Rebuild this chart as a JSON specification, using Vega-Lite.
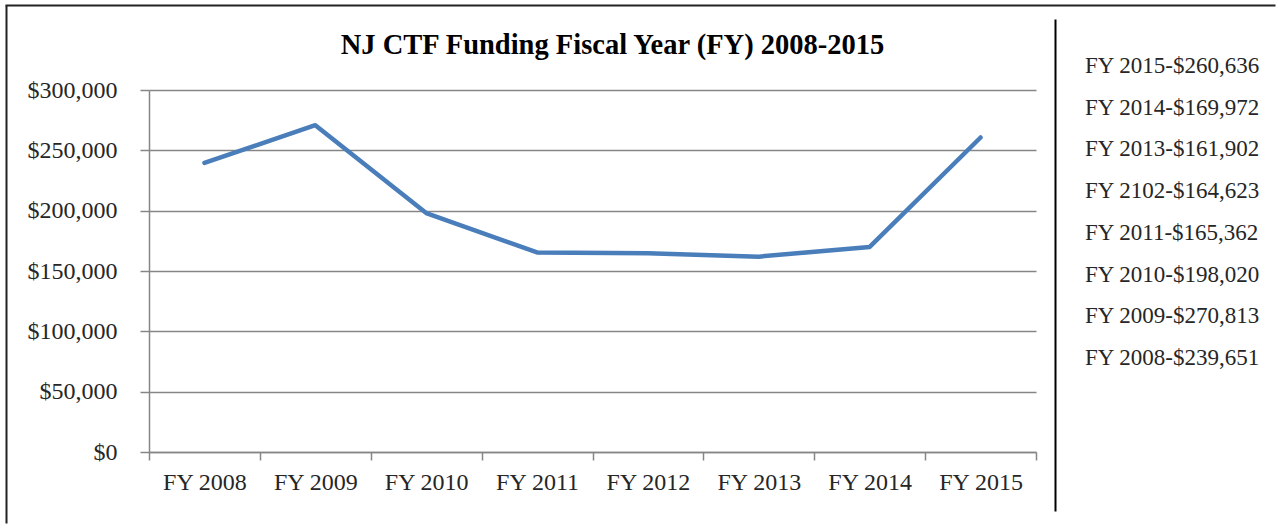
{
  "$schema": "https://vega.github.io/schema/vega-lite/v6.json",
  "background": "white",
  "padding": {"left": 6, "top": 5, "right": 0, "bottom": 0},
  "data": {
    "values": [
      {"year": "FY 2008", "value": 239651, "note": "FY 2008-$239,651"},
      {"year": "FY 2009", "value": 270813, "note": "FY 2009-$270,813"},
      {"year": "FY 2010", "value": 198020, "note": "FY 2010-$198,020"},
      {"year": "FY 2011", "value": 165362, "note": "FY 2011-$165,362"},
      {"year": "FY 2012", "value": 164623, "note": "FY 2102-$164,623"},
      {"year": "FY 2013", "value": 161902, "note": "FY 2013-$161,902"},
      {"year": "FY 2014", "value": 169972, "note": "FY 2014-$169,972"},
      {"year": "FY 2015", "value": 260636, "note": "FY 2015-$260,636"}
    ]
  },
  "spacing": 19,
  "bounds": "flush",
  "config": {"view": {"stroke": null}, "font": "Liberation Serif"},
  "hconcat": [
    {
      "width": 887,
      "height": 362,
      "title": {
        "text": "NJ CTF Funding Fiscal Year (FY) 2008-2015",
        "font": "Liberation Serif",
        "fontSize": 28.5,
        "fontWeight": "bold",
        "color": "#000000",
        "anchor": "middle",
        "frame": "group",
        "dx": 20,
        "offset": -77,
        "baseline": "alphabetic"
      },
      "layer": [
        {
          "mark": {"type": "line", "color": "#4a7ebb", "strokeWidth": 4.5, "strokeCap": "round", "strokeJoin": "round"},
          "encoding": {
            "x": {
              "field": "year",
              "type": "ordinal",
              "sort": null,
              "bandPosition": 0.5,
              "scale": {"type": "band", "paddingInner": 0, "paddingOuter": 0},
              "axis": {
                "title": null,
                "orient": "bottom",
                "tickBand": "extent",
                "labelAngle": 0,
                "labelFont": "Liberation Serif",
                "labelFontSize": 24,
                "labelColor": "#262626",
                "labelPadding": 10,
                "tickSize": 8,
                "tickColor": "#868686",
                "tickWidth": 1.5,
                "domainColor": "#868686",
                "domainWidth": 1.5,
                "grid": false
              }
            },
            "y": {
              "field": "value",
              "type": "quantitative",
              "scale": {"domain": [0, 300000], "nice": false},
              "axis": {
                "title": null,
                "orient": "left",
                "values": [0, 50000, 100000, 150000, 200000, 250000, 300000],
                "format": "$,.0f",
                "labelFont": "Liberation Serif",
                "labelFontSize": 24,
                "labelColor": "#262626",
                "labelPadding": 23,
                "tickSize": 9,
                "tickColor": "#868686",
                "tickWidth": 1.5,
                "domainColor": "#868686",
                "domainWidth": 1.5,
                "grid": true,
                "gridColor": "#868686",
                "gridWidth": 1.5
              }
            }
          }
        },
        {
          "mark": {"type": "line", "strokeOpacity": 0},
          "encoding": {
            "x": {
              "field": "year",
              "type": "ordinal",
              "sort": null,
              "scale": {"type": "band", "range": [-144, 1126]},
              "axis": {
                "title": null,
                "orient": "top",
                "offset": 85,
                "labels": false,
                "ticks": false,
                "grid": false,
                "domain": true,
                "domainColor": "#222222",
                "domainWidth": 2
              }
            },
            "y": {
              "field": "value",
              "type": "quantitative",
              "scale": {"domain": [0, 300000], "nice": false, "range": [433, -85]},
              "axis": {
                "title": null,
                "orient": "left",
                "offset": 143,
                "labels": false,
                "ticks": false,
                "grid": false,
                "domain": true,
                "domainColor": "#222222",
                "domainWidth": 2
              }
            }
          }
        }
      ],
      "resolve": {
        "scale": {"x": "independent", "y": "independent"},
        "axis": {"x": "independent", "y": "independent"}
      }
    },
    {
      "width": 60,
      "height": 362,
      "layer": [
        {
          "mark": {"type": "text", "align": "left", "baseline": "middle", "font": "Liberation Serif", "fontSize": 23, "color": "#262626"},
          "encoding": {
            "y": {
              "field": "year",
              "type": "ordinal",
              "sort": "descending",
              "scale": {"type": "point", "padding": 0, "range": [-24, 268]},
              "axis": null
            },
            "text": {"field": "note"}
          }
        },
        {
          "mark": {"type": "point", "opacity": 0, "size": 0},
          "encoding": {
            "y": {
              "field": "value",
              "type": "quantitative",
              "scale": {"domain": [0, 300000], "nice": false, "range": [421, -71]},
              "axis": {
                "title": null,
                "orient": "left",
                "labels": false,
                "ticks": false,
                "grid": false,
                "domain": true,
                "domainColor": "#000000",
                "domainWidth": 2
              }
            }
          }
        }
      ],
      "resolve": {
        "scale": {"y": "independent"},
        "axis": {"y": "independent"}
      }
    }
  ]
}
